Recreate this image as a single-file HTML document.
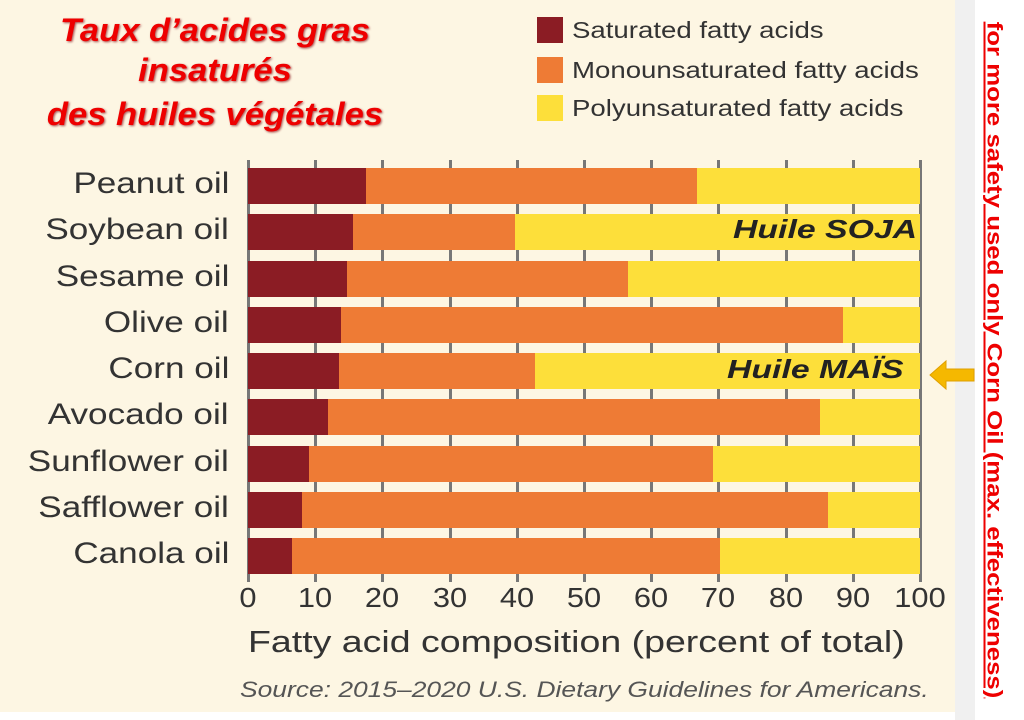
<!DOCTYPE html>
<html><head><meta charset="utf-8"><style>
body{margin:0;width:1024px;height:720px;background:#fff;overflow:hidden;position:relative;font-family:"Liberation Sans",sans-serif}
#panel{position:absolute;left:0;top:0;width:955px;height:712px;background:#fdf6e3}
#strip{position:absolute;left:955px;top:0;width:20px;height:720px;background:#f0f0f0}
.t{position:absolute;color:#e00;font-weight:bold;font-style:italic;font-size:32px;text-align:center;width:400px;left:15px;text-shadow:1px 1px 2px #a55;transform:scaleX(1.08)}
.lab{position:absolute;right:795px;font-size:30px;color:#333;text-align:right;white-space:nowrap;transform:scaleX(1.17);transform-origin:right center}
.leg{position:absolute;font-size:23px;color:#333;transform:scaleX(1.2);transform-origin:left center;white-space:nowrap}
.sw{position:absolute;width:26px;height:26px}
.bar{position:absolute;height:36px}
.tick{position:absolute;width:3px;background:#777}
.xl{position:absolute;top:582px;font-size:28px;color:#333;width:60px;text-align:center;transform:scaleX(1.1)}
</style></head><body>
<div id="panel"></div><div id="strip"></div>
<div class="t" style="top:12px">Taux d’acides gras</div>
<div class="t" style="top:52px">insaturés</div>
<div class="t" style="top:96px">des huiles végétales</div>
<div class="sw" style="left:537px;top:17px;background:#8b1c24"></div><div class="leg" style="left:572px;top:17px">Saturated fatty acids</div>
<div class="sw" style="left:537px;top:57px;background:#ee7b35"></div><div class="leg" style="left:572px;top:57px">Monounsaturated fatty acids</div>
<div class="sw" style="left:537px;top:95px;background:#fddf3a"></div><div class="leg" style="left:572px;top:95px">Polyunsaturated fatty acids</div>
<div id="bars"></div>
<div style="position:absolute;left:248px;top:624px;font-size:31px;color:#333;white-space:nowrap;transform:scaleX(1.21);transform-origin:left center">Fatty acid composition (percent of total)</div>
<div style="position:absolute;left:240px;top:677px;font-size:22px;font-style:italic;color:#555;white-space:nowrap;transform:scaleX(1.2);transform-origin:left center">Source: 2015–2020 U.S. Dietary Guidelines for Americans.</div>
<div style="position:absolute;left:733px;top:214px;font-size:26px;font-weight:bold;font-style:italic;color:#222;white-space:nowrap;transform:scaleX(1.3);transform-origin:left center">Huile SOJA</div>
<div style="position:absolute;left:727px;top:354px;font-size:26px;font-weight:bold;font-style:italic;color:#222;white-space:nowrap;transform:scaleX(1.3);transform-origin:left center">Huile MAÏS</div>
<svg style="position:absolute;left:928px;top:358px" width="48" height="34"><polygon points="2,17 18,3 18,11 46,11 46,23 18,23 18,31" fill="#f5b800" stroke="#e0a000"/></svg>
<div style="position:absolute;left:994px;top:360px;transform:translate(-50%,-50%) rotate(90deg) scaleX(1.2);white-space:nowrap;color:#e00;font-size:21.5px;font-weight:bold;text-decoration:underline">for more safety used only Corn Oil (max. effectiveness)</div>
<script>
var d=[["Peanut oil",366,697],["Soybean oil",353,515],["Sesame oil",347,628],["Olive oil",341,843],["Corn oil",339,535],["Avocado oil",328,820],["Sunflower oil",309,713],["Safflower oil",302,828],["Canola oil",292,720]];
var h="";
for(var i=0;i<=10;i++){var x=248+i*67.2;h+='<div class="tick" style="left:'+(x-1)+'px;top:160px;height:422px"></div><div class="xl" style="left:'+(x-30)+'px">'+(i*10)+'</div>';}
d.forEach(function(r,i){var y=168+i*46.25;
h+='<div class="bar" style="left:248px;top:'+y+'px;width:'+(r[1]-248)+'px;background:#8b1c24"></div>';
h+='<div class="bar" style="left:'+r[1]+'px;top:'+y+'px;width:'+(r[2]-r[1])+'px;background:#ee7b35"></div>';
h+='<div class="bar" style="left:'+r[2]+'px;top:'+y+'px;width:'+(920-r[2])+'px;background:#fddf3a"></div>';
h+='<div class="lab" style="top:'+(y-1)+'px">'+r[0]+'</div>';});
document.getElementById("bars").innerHTML=h;
</script>
</body></html>
